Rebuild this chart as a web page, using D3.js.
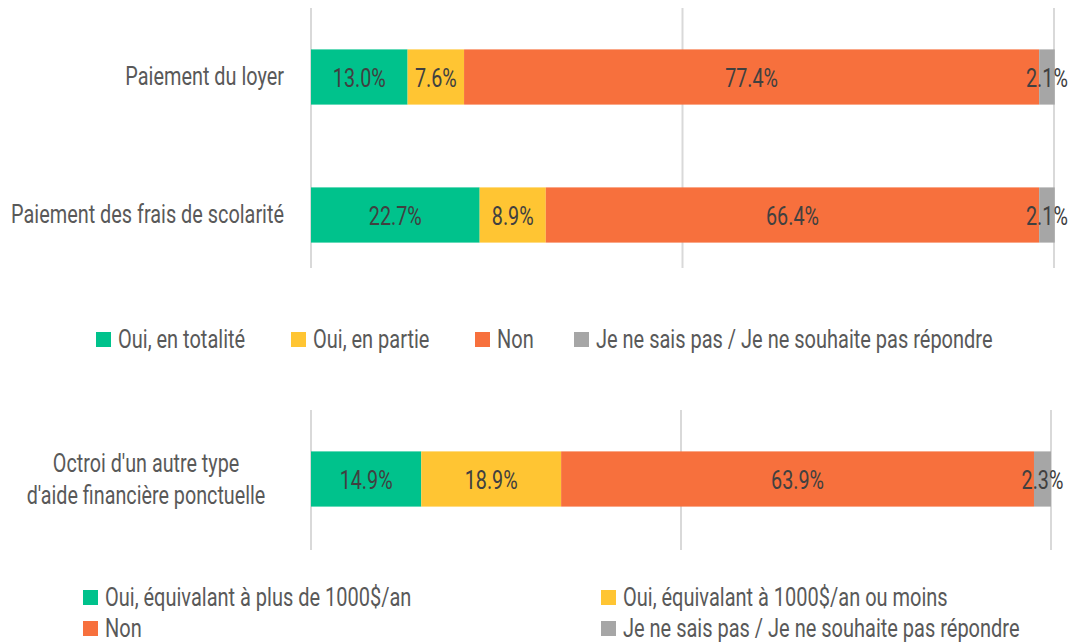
<!DOCTYPE html>
<html>
<head>
<meta charset="utf-8">
<script src="https://cdn.jsdelivr.net/npm/d3@7"></script>
<style>
  body { margin: 0; background: #fff; }
  svg text { font-family: Roboto, "Noto Sans", sans-serif; }
</style>
</head>
<body>
<div id="chart"></div>
<script>
// Data
const seriesColors = ["#00c28c", "#ffc533", "#f7703d", "#a6a6a6"];

const topCategories = ["Paiement du loyer", "Paiement des frais de scolarité"];
const topSeries = ["Oui, en totalité", "Oui, en partie", "Non", "Je ne sais pas / Je ne souhaite pas répondre"];
const topValues = [
    [13.0, 7.6, 77.4, 2.1],
    [22.7, 8.9, 66.4, 2.1]
];

const bottomCategories = [["Octroi d'un autre type", "d'aide financière ponctuelle"]];
const bottomSeries = ["Oui, équivalant à plus de 1000$/an", "Oui, équivalant à 1000$/an ou moins", "Non", "Je ne sais pas / Je ne souhaite pas répondre"];
const bottomValues = [
    [14.9, 18.9, 63.9, 2.3]
];

const gridTicks = [0, 50, 100];

// Layout
const width = 1073, height = 644;
const fontSize = 25;

const svg = d3.select("#chart")
    .append("svg")
    .attr("width", width)
    .attr("height", height);

// text helper that squeezes glyphs horizontally around the anchor
function condText(parent, x, y, str, anchor, color, squeeze) {
    return parent.append("text")
        .attr("transform", `translate(${x},${y}) scale(${squeeze},1)`)
        .attr("text-anchor", anchor)
        .attr("dominant-baseline", "central")
        .style("font-size", fontSize + "px")
        .attr("fill", color)
        .text(str);
}

function drawPanel(cfg) {
    const g = svg.append("g");

    const x = d3.scaleLinear()
        .domain([0, 100])
        .range([cfg.x0, cfg.x1]);

    const y = d3.scaleBand()
        .domain(cfg.categories.map((d, i) => i))
        .range([cfg.y0, cfg.y1])
        .paddingInner(0.6)
        .paddingOuter(0.3);

    // gridlines
    g.selectAll("line.grid")
        .data(gridTicks)
        .enter()
        .append("line")
        .attr("class", "grid")
        .attr("x1", d => x(d))
        .attr("x2", d => x(d))
        .attr("y1", cfg.y0)
        .attr("y2", cfg.gridBottom)
        .attr("stroke", "#d9d9d9")
        .attr("stroke-width", 2);

    // stacked bars
    cfg.values.forEach((row, ri) => {
        let acc = 0;
        row.forEach((v, si) => {
            const start = acc;
            acc += v;
            g.append("rect")
                .attr("x", x(start))
                .attr("y", y(ri))
                .attr("width", x(acc) - x(start))
                .attr("height", y.bandwidth())
                .attr("fill", seriesColors[si]);
        });
        acc = 0;
        row.forEach(v => {
            const mid = acc + v / 2;
            acc += v;
            condText(g, x(mid), y(ri) + y.bandwidth() / 2 + 1, v.toFixed(1) + "%", "middle", "#404040", 0.79);
        });

        // category label
        const lab = cfg.categories[ri];
        const cy = y(ri) + y.bandwidth() / 2;
        if (Array.isArray(lab)) {
            const t = condText(g, cfg.labelMid, cy, "", "middle", "#595959", 0.79)
                .attr("dominant-baseline", null);
            lab.forEach((line, li) => {
                t.append("tspan")
                    .attr("x", 0)
                    .attr("y", (li - (lab.length - 1) / 2) * 32 + 9)
                    .text(line);
            });
        } else {
            condText(g, cfg.x0 - 27, cy, lab, "end", "#595959", 0.795);
        }
    });

    // legend
    cfg.legend.forEach((item, i) => {
        g.append("rect")
            .attr("x", item.x)
            .attr("y", item.y - 7)
            .attr("width", 15)
            .attr("height", 15)
            .attr("fill", seriesColors[i]);
        condText(g, item.x + 22, item.y + 1, cfg.series[i], "start", "#595959", 0.8);
    });
}

drawPanel({
    categories: topCategories,
    series: topSeries,
    values: topValues,
    x0: 311, x1: 1054,
    y0: 8, y1: 284, gridBottom: 268,
    legend: [
        { x: 96, y: 339 },
        { x: 291, y: 339 },
        { x: 475, y: 339 },
        { x: 574, y: 339 }
    ]
});

drawPanel({
    categories: bottomCategories,
    series: bottomSeries,
    values: bottomValues,
    x0: 311, x1: 1051,
    y0: 410, y1: 548, gridBottom: 550,
    labelMid: 146,
    legend: [
        { x: 83, y: 597 },
        { x: 601, y: 597 },
        { x: 83, y: 628 },
        { x: 601, y: 628 }
    ]
});
</script>
</body>
</html>
